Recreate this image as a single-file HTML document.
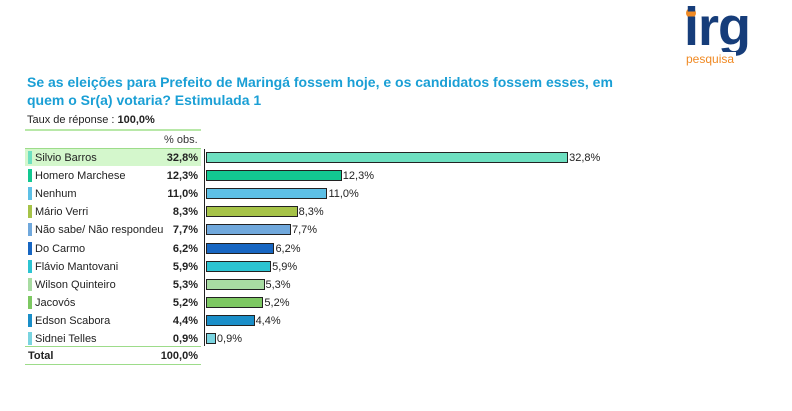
<!DOCTYPE html>
<html><head><meta charset="utf-8"><style>
body{margin:0;width:792px;height:411px;background:#fff;font-family:"Liberation Sans",sans-serif;position:relative;overflow:hidden}
.a{position:absolute;white-space:nowrap}
.t{color:#1a9fd5;font-weight:bold;font-size:14px;left:27px;line-height:18px}
.r{position:absolute;left:25px;width:176px;height:17px;font-size:11px;color:#222}
.r .c{position:absolute;left:3px;top:2px;width:4px;height:13px}
.r .l{position:absolute;left:10px;top:3px}
.r .v{position:absolute;right:3px;top:3px;font-weight:bold}
.b{position:absolute;left:206px;height:11px;border:1px solid #222;box-sizing:border-box}
.p{position:absolute;font-size:11px;color:#222}
</style></head><body>
<div class="a" style="left:686px;top:8px;width:10px;height:10px;border-radius:50%;background:#f08a24"></div>
<div class="a" style="left:684px;top:-2px;font-size:54px;font-weight:bold;color:#163d7a;letter-spacing:-1px;line-height:58px">irg</div>
<div class="a" style="left:686px;top:52px;font-size:12px;color:#f08a24;background:#fff;padding-right:2px">pesquisa</div>
<div class="a t" style="top:73px">Se as eleições para Prefeito de Maringá fossem hoje, e os candidatos fossem esses, em<br>quem o Sr(a) votaria? Estimulada 1</div>
<div class="a" style="left:27px;top:114px;font-size:11px;color:#222">Taux de réponse : <b>100,0%</b></div>
<div class="a" style="left:25px;top:129px;width:176px;height:2px;background:#b8e8a8"></div>
<div class="a" style="left:164px;top:134px;font-size:11px;color:#333">% obs.</div>
<div class="a" style="left:25px;top:148px;width:176px;height:1px;background:#9ddc8a"></div>
<div class="a" style="left:204px;top:149px;width:1px;height:197px;background:#222"></div>
<div id="rows"></div>
<div class="r" style="top:347px;font-weight:bold"><span class="l" style="left:3px">Total</span><span class="v">100,0%</span></div>
<div class="a" style="left:25px;top:346px;width:176px;height:1px;background:#9ddc8a"></div>
<div class="a" style="left:25px;top:364px;width:176px;height:1px;background:#9ddc8a"></div>
<script>
var d=[["Silvio Barros",32.8,"#6ddfc0"],["Homero Marchese",12.3,"#12c891"],["Nenhum",11.0,"#5dc0e6"],["Mário Verri",8.3,"#a6c348"],["Não sabe/ Não respondeu",7.7,"#70a8dc"],["Do Carmo",6.2,"#1766c2"],["Flávio Mantovani",5.9,"#2cc4d2"],["Wilson Quinteiro",5.3,"#a8dca2"],["Jacovós",5.2,"#7dc862"],["Edson Scabora",4.4,"#1a8ec8"],["Sidnei Telles",0.9,"#7ad4e0"]];
var h="";
d.forEach(function(x,i){var y=149+i*18.1;var s=x[1].toFixed(1).replace(".",",")+"%";
h+='<div class="r" style="top:'+y+'px;'+(i==0?'background:#d4f7cc':'')+'"><span class="c" style="background:'+x[2]+'"></span><span class="l">'+x[0]+'</span><span class="v">'+s+'</span></div>';
var w=x[1]*11.04;
h+='<div class="b" style="top:'+(y+3)+'px;width:'+w+'px;background:'+x[2]+'"></div>';
h+='<div class="p" style="left:'+(207+w)+'px;top:'+(y+3)+'px">'+s+'</div>';});
document.getElementById("rows").innerHTML=h;
</script>
</body></html>
